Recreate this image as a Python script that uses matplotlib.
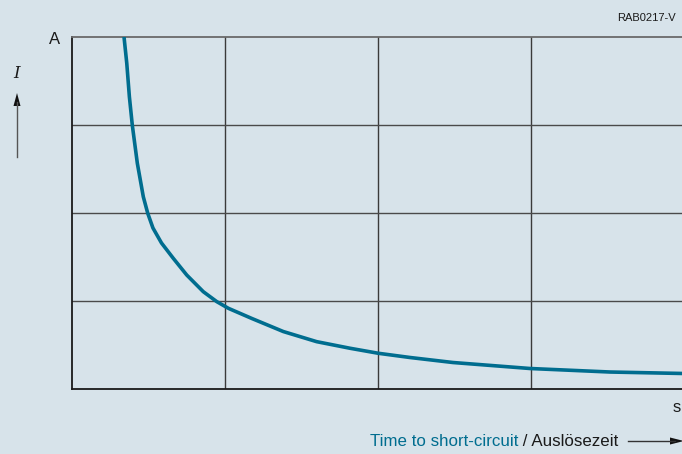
import matplotlib.pyplot as plt

# Tripping characteristic: current vs. time to short-circuit (in grid units)
time_s = [0.340, 0.358, 0.375, 0.394, 0.427, 0.466, 0.495, 0.529, 0.585, 0.662,
          0.750, 0.858, 0.946, 1.022, 1.176, 1.381, 1.599, 1.817, 2.002, 2.209,
          2.490, 2.993, 3.516, 4.000]
current_a = [4.000, 3.701, 3.322, 3.000, 2.565, 2.185, 1.997, 1.830, 1.659, 1.485,
             1.295, 1.106, 0.993, 0.917, 0.801, 0.653, 0.538, 0.463, 0.406, 0.358,
             0.301, 0.233, 0.193, 0.176]

bg = '#d7e3ea'
teal = '#006d8f'
sans = ['Liberation Sans', 'DejaVu Sans']

W, H = 682, 454
fig = plt.figure(figsize=(W / 100, H / 100), dpi=100, facecolor=bg)

# axes box in pixels: left 72, right 684 (runs past the edge), top 37, bottom 389
ax = fig.add_axes([72 / W, 1 - 389 / H, 612 / W, 352 / H])
ax.set_facecolor(bg)
ax.set_xlim(0, 4)
ax.set_ylim(0, 4)

# grid
for gx in [1, 2, 3]:
    ax.axvline(gx, color='#3a3a3a', lw=1.0, zorder=1)
for gy in [1, 2, 3]:
    ax.axhline(gy, color='#4a4a4a', lw=1.0, zorder=1)

ax.plot(time_s, current_a, color=teal, lw=2.6, solid_joinstyle='round',
        solid_capstyle='butt', zorder=3)

ax.spines['right'].set_visible(False)
ax.spines['top'].set_color('#6a6a6a')
ax.spines['top'].set_linewidth(1.3)
for side in ['left', 'bottom']:
    ax.spines[side].set_color('#1a1a1a')
    ax.spines[side].set_linewidth(1.3)
ax.set_xticks([])
ax.set_yticks([])


def fx(px):
    return px / W


def fy(py):
    return 1 - py / H


# y-axis label and arrow
fig.text(fx(55), fy(39), 'A', family=sans, fontsize=12, ha='center', va='center', color='#1a1a1a')
fig.text(fx(17), fy(74), 'I', family='DejaVu Serif', style='italic', fontsize=12,
         ha='center', va='center', color='#1a1a1a')
fig.add_artist(plt.Line2D([fx(17), fx(17)], [fy(157), fy(102)], transform=fig.transFigure,
                          color='#555555', lw=1.0))
fig.add_artist(plt.Polygon([[fx(13.5), fy(106)], [fx(20.5), fy(106)], [fx(17), fy(93)]],
                           closed=True, transform=fig.transFigure, color='#111111', lw=0))

# drawing code top right
fig.text(fx(676), fy(18), 'RAB0217-V', family=sans, fontsize=8, ha='right', va='center',
         color='#1a1a1a')

# x unit and label
fig.text(fx(673), fy(408), 's', family=sans, fontsize=12, ha='left', va='center', color='#1a1a1a')
t1 = fig.text(fx(370), fy(441), 'Time to short-circuit', family=sans, fontsize=12.2,
              ha='left', va='center', color=teal)
ax.annotate(' / Auslösezeit', xy=(1, 0.5), xycoords=t1, ha='left', va='center',
            family=sans, fontsize=12.2, color='#1a1a1a', annotation_clip=False)
fig.add_artist(plt.Line2D([fx(628), fx(675)], [fy(441), fy(441)], transform=fig.transFigure,
                          color='#333333', lw=1.0))
fig.add_artist(plt.Polygon([[fx(670), fy(437.5)], [fx(670), fy(444.5)], [fx(684), fy(441)]],
                           closed=True, transform=fig.transFigure, color='#111111', lw=0))

fig.savefig('out.png', dpi=100, facecolor=bg)
